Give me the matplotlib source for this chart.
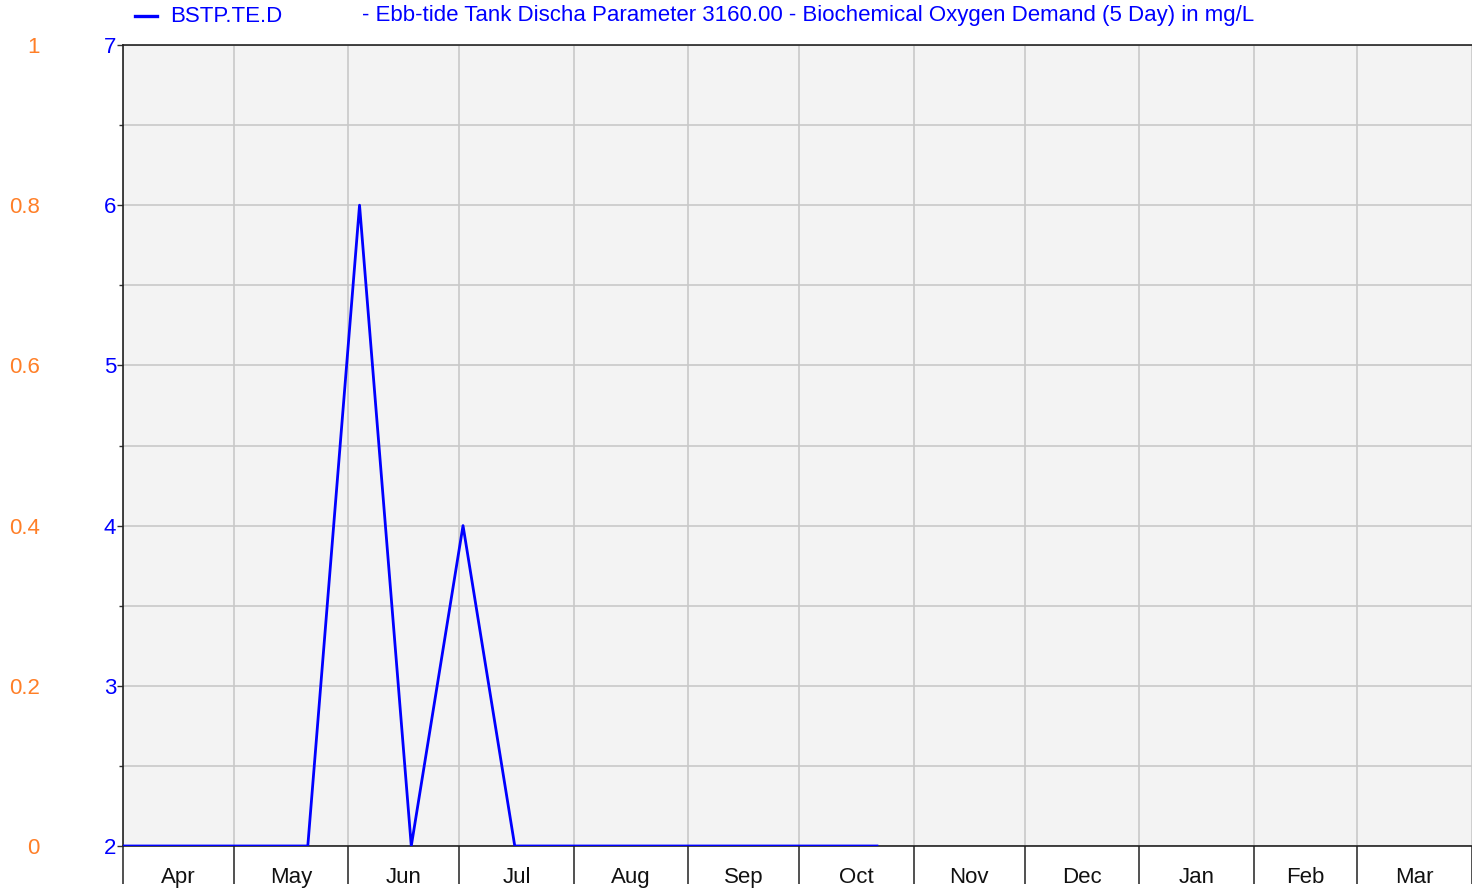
import matplotlib
matplotlib.use("Agg")
import matplotlib.pyplot as plt
import matplotlib.dates as mdates
from matplotlib.ticker import MultipleLocator, FixedLocator
import datetime as dt

plt.rcParams['font.family'] = ['Liberation Sans', 'DejaVu Sans']

# ---- data ----
dates = ["2021-03-26", "2021-04-09", "2021-04-23", "2021-05-07", "2021-05-21",
         "2021-06-04", "2021-06-18", "2021-07-02", "2021-07-16", "2021-07-30",
         "2021-08-13", "2021-08-27", "2021-09-10", "2021-09-24", "2021-10-08",
         "2021-10-22"]
values = [2, 2, 2, 2, 2, 6, 2, 4, 2, 2, 2, 2, 2, 2, 2, 2]
month_labels = ["Apr", "May", "Jun", "Jul", "Aug", "Sep", "Oct", "Nov", "Dec",
                "Jan", "Feb", "Mar"]
left_ticks = [2, 3, 4, 5, 6, 7]
right_ticks = [0, 0.2, 0.4, 0.6, 0.8, 1]
right_labels = ["0", "0.2", "0.4", "0.6", "0.8", "1"]
series_name = "BSTP.TE.D"
legend_desc = "- Ebb-tide Tank Discha Parameter 3160.00 - Biochemical Oxygen Demand (5 Day) in mg/L"

x = [dt.datetime.strptime(d, "%Y-%m-%d") for d in dates]
start = dt.datetime(2021, 4, 1)
end = dt.datetime(2022, 4, 1)

blue = "#0000ff"
orange = "#ff7f27"
fs = 16

fig = plt.figure(figsize=(14.72, 8.90), dpi=100)
ax = fig.add_axes([123/1472, 44/890, 1 - 123/1472, 801/890])
ax.set_facecolor("#f3f3f3")

ax.plot(x, values, color=blue, lw=2.0, clip_on=True, zorder=3)

ax.set_xlim(start, end)
ax.set_ylim(2, 7)

# month boundaries (major) and mid-month labels (minor)
bounds = [dt.datetime(2021 + (3 + i) // 12, (3 + i) % 12 + 1, 1) for i in range(13)]
mids = [bounds[i] + (bounds[i + 1] - bounds[i]) / 2 for i in range(12)]
ax.xaxis.set_major_locator(FixedLocator(mdates.date2num(bounds)))
ax.xaxis.set_minor_locator(FixedLocator(mdates.date2num(mids)))
ax.xaxis.set_major_formatter(plt.NullFormatter())
ax.set_xticklabels(month_labels, minor=True)
ax.tick_params(axis='x', which='major', length=27, width=1.2, color="#333333", direction='out')
ax.tick_params(axis='x', which='minor', length=0, pad=15, labelsize=fs, labelcolor="#111111")

ax.set_yticks(left_ticks)
ax.yaxis.set_minor_locator(MultipleLocator(0.5))
ax.tick_params(axis='y', which='major', length=4, width=1, color="#333333",
               labelcolor=blue, labelsize=fs, pad=1)
ax.tick_params(axis='y', which='minor', length=3, width=1, color="#333333")

ax.grid(True, which='major', axis='x', color="#c8c8c8", lw=1.2)
ax.grid(True, which='both', axis='y', color="#c8c8c8", lw=1.2)
ax.set_axisbelow(True)

for s in ['left', 'bottom', 'top']:
    ax.spines[s].set_color("#222222")
    ax.spines[s].set_linewidth(1.2)
ax.spines['right'].set_visible(False)

# secondary (orange) axis on far left
ax2 = ax.twinx()
ax2.set_ylim(0, 1)
ax2.set_yticks(right_ticks)
ax2.set_yticklabels(right_labels)
ax2.yaxis.set_ticks_position('left')
ax2.yaxis.set_label_position('left')
ax2.tick_params(axis='y', length=0, labelcolor=orange, labelsize=fs, pad=60)
for s in ax2.spines.values():
    s.set_visible(False)
ax2.patch.set_visible(False)

# legend line and text
fig.add_artist(plt.Line2D([135/1472, 157/1472], [1 - 16/890, 1 - 16/890],
                          color=blue, lw=2.4, transform=fig.transFigure))
fig.text(170/1472, 1 - 16/890, series_name, color=blue, fontsize=fs, va='center', ha='left')
fig.text(362/1472, 1 - 16/890, legend_desc, color=blue, fontsize=fs, va='center', ha='left')

fig.savefig("out.png", dpi=100, facecolor="white")
